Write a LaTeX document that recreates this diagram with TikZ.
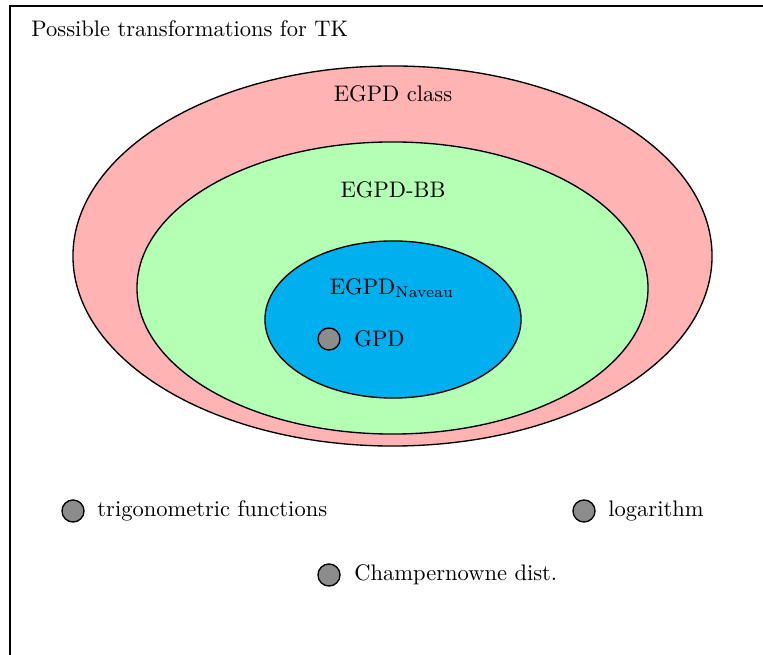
\documentclass[tikz,border=0pt]{standalone}
\usetikzlibrary{shapes.geometric}
\definecolor{setred}{RGB}{255,179,179}
\definecolor{setgreen}{RGB}{179,255,179}
\definecolor{setblue}{RGB}{0,176,238}
\definecolor{dotgray}{RGB}{140,140,140}
\tikzset{
  setell/.style={ellipse, draw=black, line width=0.6pt, inner sep=0pt},
  dotnode/.style={circle, draw=black, fill=dotgray, line width=0.6pt, minimum size=9.8pt, inner sep=0pt},
  lbl/.style={anchor=west, inner sep=0pt},
}
\begin{document}
\begin{tikzpicture}[x=0.4444pt, y=-0.4444pt]
\useasboundingbox (0,0) rectangle (763,655);
\draw[line width=0.8pt] (10,6) rectangle (820,720);
\node[lbl] (title) at (31,29) {Possible transformations for TK};
\node[setell, fill=setred, minimum width=284pt, minimum height=168.9pt] (egpd) at (392.5,256) {};
\node[setell, fill=setgreen, minimum width=227.1pt, minimum height=129.8pt] (bb) at (392.5,288) {};
\node[setell, fill=setblue, minimum width=113.8pt, minimum height=69.8pt] (nav) at (393,319.5) {};
\node (egpdlbl) at (393,94) {EGPD class};
\node (bblbl) at (393,190) {EGPD-BB};
\node (navlbl) at (392,288) {EGPD$_{\mathrm{Naveau}}$};
\node[dotnode] (gpd) at (329,339) {};
\node[lbl] (gpdl) at (354,339) {GPD};
\node[dotnode] (trig) at (73,511) {};
\node[lbl] (trigl) at (97,511) {trigonometric functions};
\node[dotnode] (log) at (584,511) {};
\node[lbl] (logl) at (608,511) {logarithm};
\node[dotnode] (champ) at (329,575) {};
\node[lbl] (champl) at (354,575) {Champernowne dist.};
\end{tikzpicture}
\end{document}
